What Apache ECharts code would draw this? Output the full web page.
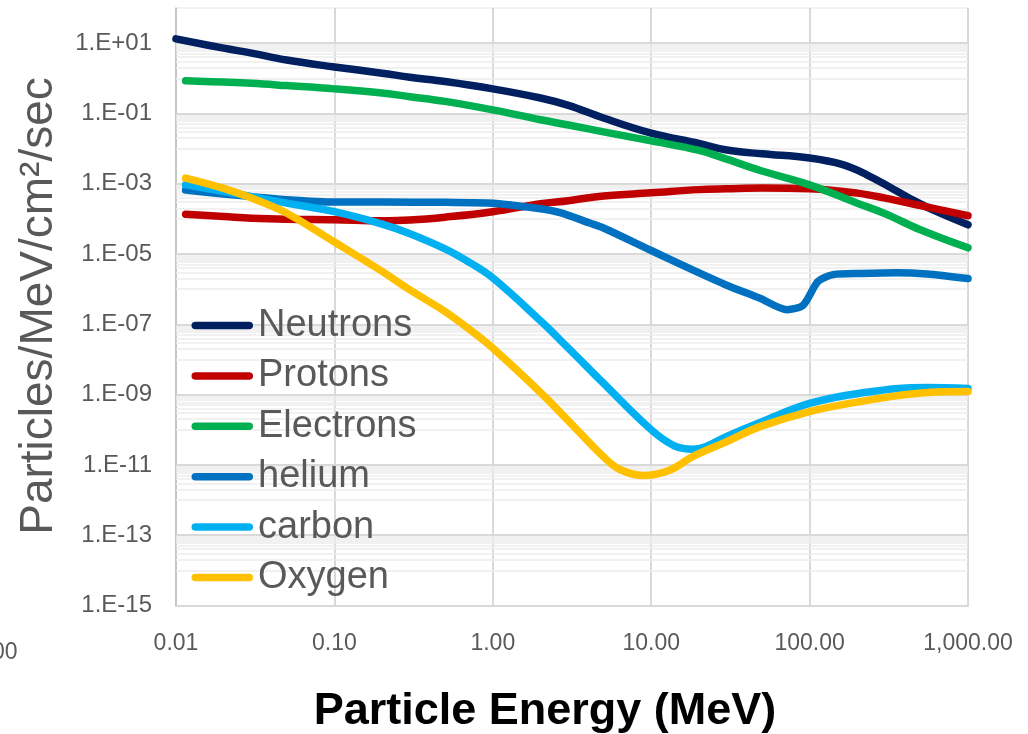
<!DOCTYPE html>
<html><head><meta charset="utf-8">
<script src="https://cdn.jsdelivr.net/npm/echarts@6/dist/echarts.min.js"></script>
<style>html,body{margin:0;padding:0;background:#fff}#c{width:1028px;height:734px}</style>
</head><body><div id="c"></div>
<script>
// ---- data (energy in MeV, flux in particles/MeV/cm2/sec) ----
const seriesNames = ['Neutrons', 'Protons', 'Electrons', 'helium', 'carbon', 'Oxygen'];
const neutrons = [[0.01,13.2],[0.02,7.2],[0.03,5.2],[0.05,3.3],[0.1,2.1],[0.2,1.4],[0.3,1.07],[0.5,0.81],[1,0.5],[2,0.275],[3,0.17],[5,0.074],[10,0.0275],[20,0.014],[30,0.0091],[50,0.0071],[100,0.0054],[162,3.5e-3],[230,1.8e-3],[336,7.1e-4],[430,3.8e-4],[600,1.8e-4],[1000,6.8e-5]];
const protons = [[0.0115,1.35e-4],[0.02,1.17e-4],[0.03,1.05e-4],[0.05,9.8e-5],[0.1,9.5e-5],[0.2,8.9e-5],[0.3,9.3e-5],[0.5,1.12e-4],[1,1.6e-4],[2,2.7e-4],[3,3.3e-4],[5,4.5e-4],[10,5.5e-4],[20,6.8e-4],[30,7.2e-4],[50,7.6e-4],[100,7.2e-4],[200,5.4e-4],[300,3.9e-4],[500,2.4e-4],[1000,1.23e-4]];
const electrons = [[0.0115,0.85],[0.02,0.78],[0.03,0.72],[0.05,0.62],[0.1,0.5],[0.2,0.38],[0.3,0.30],[0.5,0.22],[1,0.126],[2,0.066],[3,0.047],[5,0.030],[10,0.0166],[20,0.0089],[30,0.005],[50,0.0023],[100,9.3e-4],[200,2.8e-4],[300,1.4e-4],[500,4.9e-5],[1000,1.5e-5]];
const helium = [[0.0115,6.6e-4],[0.02,5.1e-4],[0.03,4.3e-4],[0.05,3.5e-4],[0.1,3.0e-4],[0.2,3.0e-4],[0.5,2.95e-4],[1,2.8e-4],[1.9,2.0e-4],[2.66,1.5e-4],[4.1,7.6e-5],[5,5.5e-5],[10,1.26e-5],[18.4,3.5e-6],[30,1.3e-6],[48.6,5.5e-7],[72,2.6e-7],[91,3.5e-7],[113,1.66e-6],[141,2.6e-6],[208,2.8e-6],[356,2.95e-6],[551,2.7e-6],[1000,2.0e-6]];
const carbon = [[0.0115,9.3e-4],[0.02,6.0e-4],[0.03,4.3e-4],[0.05,2.8e-4],[0.1,1.6e-4],[0.2,7.1e-5],[0.3,3.8e-5],[0.5,1.4e-5],[0.72,5.6e-6],[1,2.1e-6],[2,1.26e-7],[3,2.1e-8],[5,2.1e-9],[10,1.0e-10],[14,3.5e-11],[18.4,2.8e-11],[22,3.3e-11],[30,6.5e-11],[50,1.7e-10],[100,5.6e-10],[208,1.1e-9],[551,1.6e-9],[1000,1.5e-9]];
const oxygen = [[0.0115,1.45e-3],[0.02,7.4e-4],[0.03,3.9e-4],[0.05,1.45e-4],[0.1,2.2e-5],[0.2,3.2e-6],[0.3,9.5e-7],[0.5,2.3e-7],[0.72,6.9e-8],[1,2.1e-8],[2,1.15e-9],[3,1.8e-10],[5,1.7e-11],[6.35,7.4e-12],[8.9,5.0e-12],[12.8,6.8e-12],[18.4,1.74e-11],[30,4.6e-11],[48.6,1.23e-10],[100,3.3e-10],[208,6.3e-10],[551,1.15e-9],[1000,1.23e-9]];
const seriesColors = ['#002060', '#C00000', '#00B050', '#0070C0', '#00B0F0', '#FFC000'];
const seriesSmooth = [0.4, 0.4, 0.4, 0.25, 0.4, 0.4];
const xTickLabels = {'-2':'0.01','-1':'0.10','0':'1.00','1':'10.00','2':'100.00','3':'1,000.00'};
const yLabelExps = [-15,-13,-11,-9,-7,-5,-3,-1,1];
const xTitle = 'Particle Energy (MeV)';
const yTitle = 'Particles/MeV/cm\u00B2/sec';

// gridlines of the y axis (Excel style: major every 2 decades, minor at k*10^n)
const majorGrid = yLabelExps.map(e => Math.pow(10, e));
const minorGrid = [];
yLabelExps.slice(0, -1).forEach(e => { for (let k = 1; k <= 9; k++) minorGrid.push(k * Math.pow(10, e + 1)); });

const FONT = '"Liberation Sans", Arial, sans-serif';
const allData = [neutrons, protons, electrons, helium, carbon, oxygen];

const chart = echarts.init(document.getElementById('c'), null, {renderer: 'canvas'});
const series = allData.map((d, i) => ({
  name: seriesNames[i], type: 'line', data: d, smooth: seriesSmooth[i], symbol: 'none', showSymbol: false,
  color: seriesColors[i], z: 3,
  lineStyle: {width: 7.5, color: seriesColors[i], cap: 'round', join: 'round'}
}));
series.unshift({
  name: '_grid', type: 'line', data: [], silent: true, z: 1,
  markLine: {
    silent: true, symbol: 'none', z: 1, precision: 20, animation: false, label: {show: false},
    data: minorGrid.map(v => ({yAxis: v, lineStyle: {color: '#ececec', width: 1.5, type: 'solid'}}))
      .concat(majorGrid.map(v => ({yAxis: v, lineStyle: {color: '#d9d9d9', width: 2, type: 'solid'}})))
  }
});

chart.setOption({
  animation: false,
  backgroundColor: '#ffffff',
  grid: {left: 176, right: 60, top: 8, bottom: 128.5, show: true, borderColor: '#e6e6e6', borderWidth: 1,
    outerBoundsMode: 'none', containLabel: false},
  legend: {
    data: seriesNames, orient: 'vertical', left: 191.5, top: 305.5, padding: 0, itemGap: 10.4,
    itemWidth: 61.5, itemHeight: 7.5, symbolKeepAspect: false,
    icon: 'path://M4,0H58A4,4,0,0,1,58,8H4A4,4,0,0,1,4,0Z',
    itemStyle: {borderWidth: 0},
    textStyle: {fontSize: 38, color: '#595959', fontFamily: FONT, lineHeight: 40}
  },
  xAxis: {
    type: 'log', logBase: 10, min: 0.01, max: 1000, interval: 1,
    axisLine: {show: true, lineStyle: {color: '#bfbfbf', width: 1.5}},
    axisTick: {show: false},
    axisLabel: {fontSize: 23, color: '#595959', fontFamily: FONT, margin: 27,
      formatter: v => xTickLabels[String(Math.round(Math.log10(v)))] || ''},
    splitLine: {show: true, lineStyle: {color: '#d9d9d9', width: 2}}
  },
  yAxis: {
    type: 'log', logBase: 10, min: 1e-15, max: 100, interval: 1,
    axisLine: {show: true, lineStyle: {color: '#bfbfbf', width: 1.5}},
    axisTick: {show: false},
    axisLabel: {fontSize: 24, color: '#595959', fontFamily: FONT, margin: 24,
      formatter: v => {
        const e = Math.round(Math.log10(v));
        if (yLabelExps.indexOf(e) < 0) return '';
        return '1.E' + (e < 0 ? '-' : '+') + String(Math.abs(e)).padStart(2, '0');
      }},
    splitLine: {show: false}
  },
  graphic: [
    {type: 'text', x: 39, y: 306, rotation: Math.PI / 2, silent: true,
      style: {text: yTitle, fontSize: 46, fill: '#595959', fontFamily: FONT, align: 'center', verticalAlign: 'middle'}},
    {type: 'text', x: 545, y: 712, silent: true,
      style: {text: xTitle, fontSize: 45, fontWeight: 'bold', fill: '#000000', fontFamily: FONT, align: 'center', verticalAlign: 'middle'}},
    {type: 'text', left: -8, top: 641, silent: true,
      style: {text: '00', fontSize: 23, fill: '#595959', fontFamily: FONT}}
  ],
  series: series
});
</script></body></html>
